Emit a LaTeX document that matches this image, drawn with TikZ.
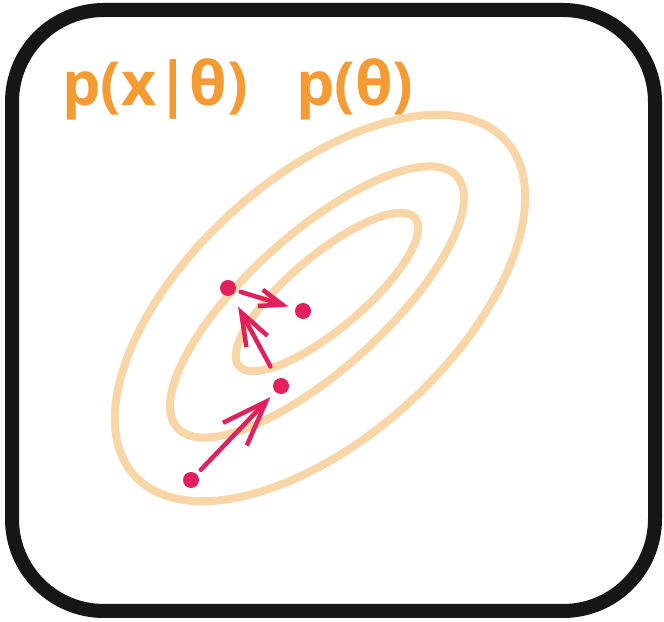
\documentclass[tikz,border=0pt]{standalone}
\usepackage{fontspec}
\setmainfont{Open Sans}
\usepackage{tikz}
\usetikzlibrary{arrows.meta}
\definecolor{posteriororange}{RGB}{245, 155, 52}
\definecolor{contourorange}{RGB}{249, 214, 168}
\definecolor{samplered}{RGB}{226, 32, 92}
\definecolor{framegray}{RGB}{22, 22, 22}

\begin{document}
\begin{tikzpicture}[x=10bp, y=10bp, line cap=round,
    sample/.style={circle, fill=samplered, inner sep=0pt, minimum size=16bp},
    stepline/.style={draw=samplered, line width=4.5bp, shorten >=7bp, shorten <=6bp},
    density/.style={anchor=base west, inner sep=0pt, text=posteriororange, font=\fontsize{61}{66}\selectfont\bfseries}]
        \useasboundingbox (0, 0) rectangle (66.4, 62.2);

        % Frame
        \draw[framegray, line width=14bp, rounded corners=92bp] (1.2, 1.1) rectangle (65.5, 61.2);

        % Unnormalised posterior
        \node[density] (lik) at (6.2, 51.6) {p(x|θ)};
        \node[density] (prior) at (29.6, 51.6) {p(θ)};

        % Contours
        \draw[contourorange, line width=8bp, rotate around={42:(32.0, 31.4)}] (32.0, 31.4) ellipse [x radius=25, y radius=13];
        \draw[contourorange, line width=8bp, rotate around={42:(31.7, 32.0)}] (31.7, 32.0) ellipse [x radius=18.8, y radius=6.8];
        \draw[contourorange, line width=8bp, rotate around={40:(32.7, 33.0)}] (32.7, 33.0) ellipse [x radius=11.5, y radius=3.7];

        % Samples
        \node[sample] (s0) at (19.1, 14.2) {};
        \node[sample] (s1) at (28.1, 23.6) {};
        \node[sample] (s2) at (22.8, 33.4) {};
        \node[sample] (s3) at (30.3, 31.1) {};

        % Steps
        \draw[stepline, -{Straight Barb[length=45bp, width=33bp]}] (s0) -- (s1);
        \draw[stepline, shorten >=13bp, shorten <=14bp, -{Straight Barb[length=33bp, width=24bp]}] (s1) -- (s2);
        \draw[stepline, shorten <=5bp, -{Straight Barb[length=23bp, width=17bp]}] (s2) -- (s3);
    \end{tikzpicture}
\end{document}
